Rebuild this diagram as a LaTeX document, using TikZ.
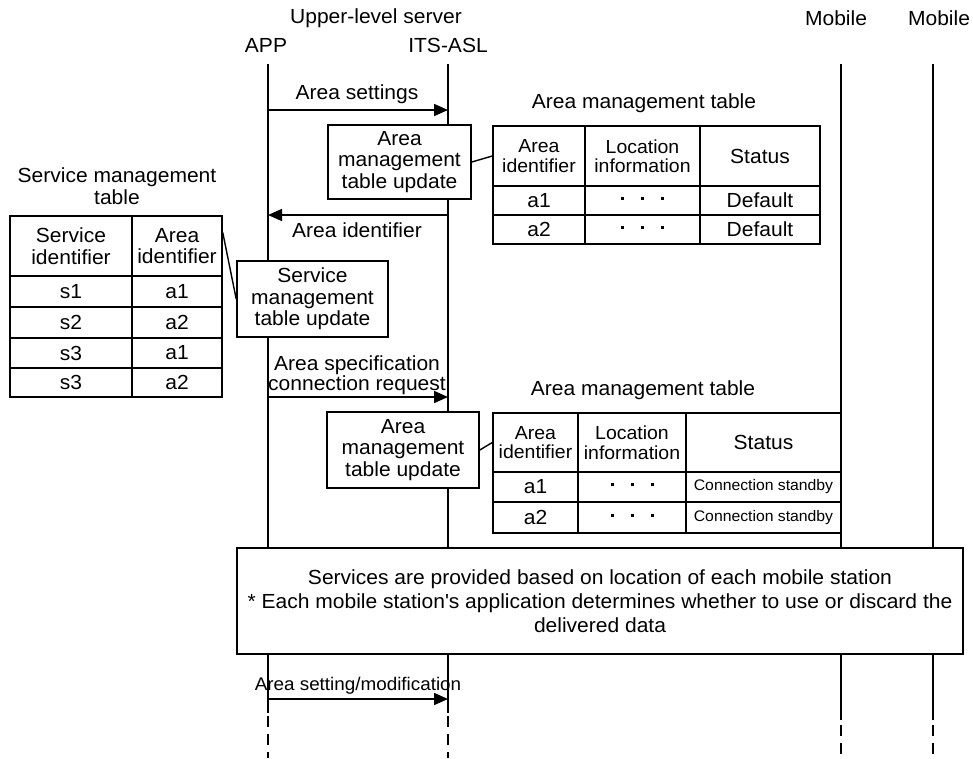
\documentclass[tikz,border=0pt]{standalone}
\usepackage{fontspec}
\setmainfont{Liberation Sans}[FakeStretch=1.03]
\usetikzlibrary{arrows.meta,calc}
\newcommand{\sqdot}{\raisebox{4.5pt}{\rule{3pt}{3pt}}}
\newcommand{\dotrow}{\sqdot\hspace{17pt}\sqdot\hspace{17pt}\sqdot}
\begin{document}
\begin{tikzpicture}[x=1pt,y=-1pt,
  base/.style={font=\fontsize{20.4}{21.5}\selectfont, inner sep=0pt, align=center, text=black},
  lab/.style={base},
  cell/.style={base, draw, line width=1.5pt, fill=white},
  hcell/.style={cell, font=\fontsize{18.9}{19.5}\selectfont},
  scell/.style={cell, font=\fontsize{15.3}{16}\selectfont},
  ubox/.style={base, draw, line width=1.6pt, fill=white},
  life/.style={line width=2.6pt},
  mlife/.style={line width=2pt},
  dashlife/.style={line width=1.4pt, dash pattern=on 11pt off 7pt},
  msg/.style={line width=1.6pt, -{Triangle[length=14pt,width=12pt]}},
  link/.style={line width=1.4pt}
]
\useasboundingbox (0,0) rectangle (973,758);
\fill[white] (0,0) rectangle (973,758);

% header labels
\node[lab] (srv) at (376,18) {Upper-level server};
\node[lab] (app) at (266,45) {APP};
\node[lab] (its) at (448,45) {ITS-ASL};
\node[lab] (mob1) at (836,18) {Mobile};
\node[lab] (mob2) at (939,18) {Mobile};

% lifelines
\coordinate (appT) at (268,64);  \coordinate (appE) at (268,713);
\coordinate (appS) at (268,716); \coordinate (appD) at (268,758);
\coordinate (itsT) at (448,64);  \coordinate (itsE) at (448,713);
\coordinate (itsS) at (448,716); \coordinate (itsD) at (448,758);
\coordinate (m1T) at (841,64);   \coordinate (m1E) at (841,720);
\coordinate (m1S) at (841,725);  \coordinate (m1D) at (841,758);
\coordinate (m2T) at (933,64);   \coordinate (m2E) at (933,720);
\coordinate (m2S) at (933,725);  \coordinate (m2D) at (933,758);
\draw[life] (appT) -- (appE); \draw[dashlife] (appS) -- (appD);
\draw[life] (itsT) -- (itsE); \draw[dashlife] (itsS) -- (itsD);
\draw[mlife] (m1T) -- (m1E); \draw[dashlife] (m1S) -- (m1D);
\draw[mlife] (m2T) -- (m2E); \draw[dashlife] (m2S) -- (m2D);

% messages
\coordinate (a1s) at (268,110); \coordinate (a1e) at (448,110);
\draw[msg] (a1s) -- (a1e);
\node[lab] (a1l) at (357,94) {Area settings};

\coordinate (a2s) at (448,215); \coordinate (a2e) at (268,215);
\draw[msg] (a2s) -- (a2e);
\node[lab] (a2l) at (357,230) {Area identifier};

\coordinate (a3s) at (268,397); \coordinate (a3e) at (448,397);
\draw[msg] (a3s) -- (a3e);
\node[lab, font=\fontsize{20.4}{17.5}\selectfont] (a3l) at (357,375) {Area specification\\connection request};

\coordinate (a4s) at (268,699); \coordinate (a4e) at (448,699);
\draw[msg] (a4s) -- (a4e);
\node[lab, font=\fontsize{18.3}{19}\selectfont] (a4l) at (358,686) {Area setting/modification};

% update boxes
\node[ubox, minimum width=143pt, minimum height=74pt] (U1) at (399.5,162) {Area\\management\\table update};
\node[ubox, minimum width=152pt, minimum height=76pt] (U2) at (403,450) {Area\\management\\table update};
\node[ubox, minimum width=151pt, minimum height=76pt] (SU) at (312.5,299) {Service\\management\\table update};

% area management table 1
\node[lab] (t1t) at (644,103) {Area management table};
\node[hcell, minimum width=92pt, minimum height=60pt] (T1h1) at (539,156) {Area\\identifier};
\node[hcell, minimum width=115pt, minimum height=60pt] (T1h2) at (642.5,156) {Location\\information};
\node[cell, minimum width=120pt, minimum height=60pt] (T1h3) at (760,156) {Status};
\node[cell, minimum width=92pt, minimum height=29pt] (T1a1) at (539,200.5) {a1};
\node[cell, minimum width=115pt, minimum height=29pt] (T1b1) at (642.5,200.5) {\dotrow};
\node[cell, minimum width=120pt, minimum height=29pt] (T1c1) at (760,200.5) {Default};
\node[cell, minimum width=92pt, minimum height=29pt] (T1a2) at (539,229.5) {a2};
\node[cell, minimum width=115pt, minimum height=29pt] (T1b2) at (642.5,229.5) {\dotrow};
\node[cell, minimum width=120pt, minimum height=29pt] (T1c2) at (760,229.5) {Default};

% area management table 2
\node[lab] (t2t) at (643,390) {Area management table};
\node[hcell, minimum width=85pt, minimum height=59pt] (T2h1) at (535.5,442.5) {Area\\identifier};
\node[hcell, minimum width=108pt, minimum height=59pt] (T2h2) at (632,442.5) {Location\\information};
\node[cell, minimum width=155pt, minimum height=59pt] (T2h3) at (763.5,442.5) {Status};
\node[cell, minimum width=85pt, minimum height=30pt] (T2a1) at (535.5,487) {a1};
\node[cell, minimum width=108pt, minimum height=30pt] (T2b1) at (632,487) {\dotrow};
\node[scell, minimum width=155pt, minimum height=30pt] (T2c1) at (763.5,487) {Connection standby};
\node[cell, minimum width=85pt, minimum height=31pt] (T2a2) at (535.5,517.5) {a2};
\node[cell, minimum width=108pt, minimum height=31pt] (T2b2) at (632,517.5) {\dotrow};
\node[scell, minimum width=155pt, minimum height=31pt] (T2c2) at (763.5,517.5) {Connection standby};

% service management table
\node[lab] (stt) at (117,186) {Service management\\table};
\node[cell, minimum width=122pt, minimum height=60pt] (Sh1) at (71,246) {Service\\identifier};
\node[cell, minimum width=90pt, minimum height=60pt] (Sh2) at (177,246) {Area\\identifier};
\node[cell, minimum width=122pt, minimum height=31pt] (Sa1) at (71,291.5) {s1};
\node[cell, minimum width=90pt, minimum height=31pt] (Sb1) at (177,291.5) {a1};
\node[cell, minimum width=122pt, minimum height=31pt] (Sa2) at (71,322.5) {s2};
\node[cell, minimum width=90pt, minimum height=31pt] (Sb2) at (177,322.5) {a2};
\node[cell, minimum width=122pt, minimum height=30pt] (Sa3) at (71,353) {s3};
\node[cell, minimum width=90pt, minimum height=30pt] (Sb3) at (177,353) {a1};
\node[cell, minimum width=122pt, minimum height=29pt] (Sa4) at (71,382.5) {s3};
\node[cell, minimum width=90pt, minimum height=29pt] (Sb4) at (177,382.5) {a2};

% links from update boxes to tables
\draw[link] (U1.east) -- (T1h1.west);
\draw[link] (U2.east) -- (T2h1.west);
\draw[link] (SU.west) -- ($(Sh2.north east)!0.28!(Sh2.south east)$);

% bottom box
\node[ubox, minimum width=726pt, minimum height=106pt, font=\fontsize{20.4}{24}\selectfont] (B) at (600,601)
  {Services are provided based on location of each mobile station\\* Each mobile station\textquotesingle s application determines whether to use or discard the\\delivered data};
\end{tikzpicture}
\end{document}
